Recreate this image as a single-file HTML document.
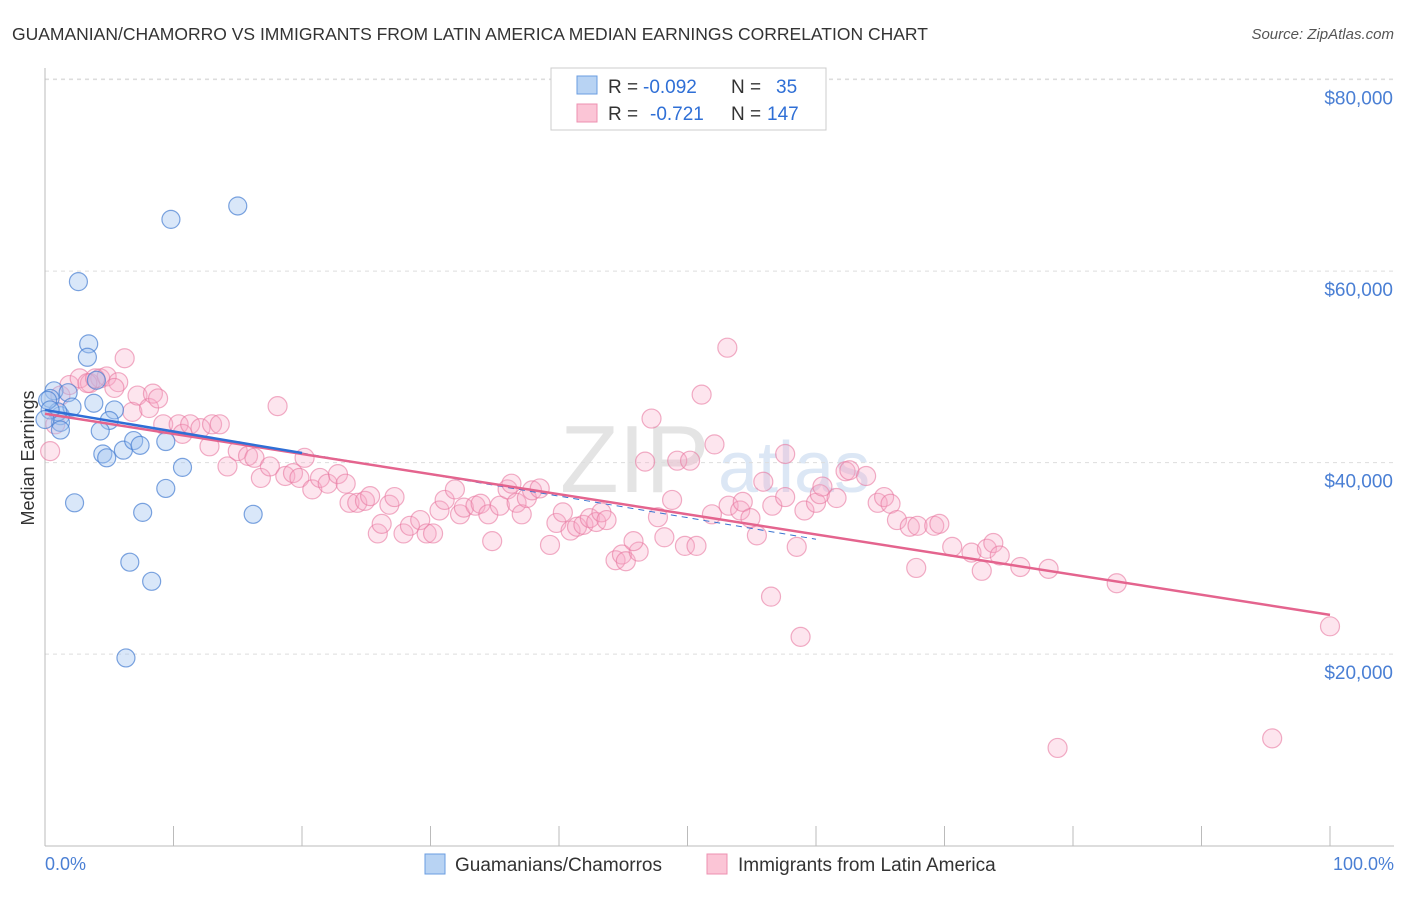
<!DOCTYPE html>
<html><head><meta charset="utf-8"><style>
body{margin:0;background:#fff;font-family:"Liberation Sans",sans-serif;}
svg text{font-family:"Liberation Sans",sans-serif;}
</style></head><body>
<svg id="chart" width="1406" height="892" viewBox="0 0 1406 892">
<text x="12" y="40" font-size="17.5" fill="#333">GUAMANIAN/CHAMORRO VS IMMIGRANTS FROM LATIN AMERICA MEDIAN EARNINGS CORRELATION CHART</text>
<text x="1394" y="39" font-size="15" fill="#555" font-style="italic" text-anchor="end">Source: ZipAtlas.com</text>
<text x="560" y="492" font-size="96" fill="#e4e4e4" font-family="Liberation Serif">ZIP</text>
<text x="718" y="492" font-size="72" fill="#dce7f5">atlas</text>
<g id="grid"></g>
<line x1="45" y1="68" x2="45" y2="846" stroke="#bbb"/>
<line x1="45" y1="846" x2="1394" y2="846" stroke="#bbb"/>
<text transform="translate(34,458) rotate(-90)" font-size="18" fill="#333" text-anchor="middle">Median Earnings</text>
<text x="45" y="870" font-size="18" fill="#4a7fd4">0.0%</text>
<text x="1394" y="870" font-size="18" fill="#4a7fd4" text-anchor="end">100.0%</text>
<g id="pts"></g>
<g id="lines"></g>
<g>
<rect x="551" y="68" width="275" height="62" fill="#fff" stroke="#ccc"/>
<rect x="577" y="76" width="20" height="18" fill="#b8d3f3" stroke="#6a9de0"/>
<rect x="577" y="104" width="20" height="18" fill="#fbc5d6" stroke="#ee90b0"/>
<text x="608" y="93" font-size="19" fill="#333">R =</text>
<text x="643" y="93" font-size="19" fill="#2f6fd6">-0.092</text>
<text x="731" y="93" font-size="19" fill="#333">N =</text>
<text x="776" y="93" font-size="19" fill="#2f6fd6">35</text>
<text x="608" y="120" font-size="19" fill="#333">R =</text>
<text x="650" y="120" font-size="19" fill="#2f6fd6">-0.721</text>
<text x="731" y="120" font-size="19" fill="#333">N =</text>
<text x="767" y="120" font-size="19" fill="#2f6fd6">147</text>
</g>
<g>
<rect x="425" y="854" width="20" height="20" fill="#b8d3f3" stroke="#6a9de0"/>
<text x="455" y="871" font-size="19" fill="#333">Guamanians/Chamorros</text>
<rect x="707" y="854" width="20" height="20" fill="#fbc5d6" stroke="#ee90b0"/>
<text x="738" y="871" font-size="19" fill="#333">Immigrants from Latin America</text>
</g>
</svg>
<script>
const yTicks=[20000,40000,60000,80000];
const yTickLabels=["$20,000","$40,000","$60,000","$80,000"];
const xTicks=[0,10,20,30,40,50,60,70,80,90,100];
const blueX=[9.8,15.0,2.6,3.4,3.3,4.0,0.7,0.4,1.8,1.2,2.1,3.8,5.4,1.0,5.0,4.3,1.2,4.5,4.8,6.1,6.9,7.4,9.4,10.7,9.4,2.3,7.6,16.2,6.6,8.3,6.3,0.2,0.4,0.0,1.2];
const blueY=[65.4,66.8,58.9,52.4,51.0,48.6,47.5,46.7,47.3,44.9,45.8,46.2,45.5,45.3,44.4,43.3,44.2,40.9,40.5,41.3,42.3,41.8,42.2,39.5,37.3,35.8,34.8,34.6,29.6,27.6,19.6,46.5,45.5,44.5,43.4];
const pinkX=[0.4,0.8,1.2,1.9,2.7,3.5,4.3,4.8,5.7,6.2,5.4,6.8,7.2,8.1,8.4,8.8,9.2,10.4,10.7,11.3,12.1,13.0,13.6,12.8,14.2,15.0,15.8,16.3,16.8,17.5,18.1,18.7,19.3,19.8,20.2,20.8,21.4,22.0,22.8,23.4,23.7,24.3,24.9,25.3,25.9,26.2,26.8,27.2,27.9,28.4,29.2,29.7,30.2,30.7,31.1,31.9,32.3,32.6,33.5,33.9,34.5,34.8,35.4,36.0,36.3,36.7,37.1,37.5,37.9,38.5,39.3,39.8,40.3,40.9,41.4,41.9,42.4,42.9,43.3,43.7,44.4,44.9,45.2,46.2,45.8,46.7,47.2,47.7,48.2,48.8,49.2,49.8,50.2,50.7,51.1,52.1,51.9,53.1,53.2,54.1,54.3,54.9,55.4,55.9,56.5,56.6,57.6,57.6,58.5,58.8,59.1,60.0,60.3,60.5,61.6,62.3,62.6,63.9,64.8,65.3,65.8,66.3,67.3,67.8,67.9,69.2,69.6,70.6,72.1,72.9,73.3,73.8,74.3,75.9,78.1,78.8,83.4,95.5,100.0,3.3,3.9];
const pinkY=[41.2,44.0,47.0,48.1,48.8,48.3,48.8,49.0,48.4,50.9,47.8,45.3,47.0,45.7,47.2,46.7,44.0,44.0,43.0,44.0,43.6,44.0,44.0,41.7,39.6,41.2,40.7,40.5,38.4,39.6,45.9,38.6,38.9,38.4,40.5,37.2,38.4,37.8,38.8,37.8,35.8,35.8,36.0,36.5,32.6,33.6,35.6,36.4,32.6,33.4,34.0,32.6,32.6,35.0,36.1,37.2,34.6,35.3,35.5,35.7,34.6,31.8,35.5,37.2,37.8,35.8,34.6,36.3,37.1,37.3,31.4,33.7,34.8,32.9,33.3,33.5,34.2,33.8,34.8,34.0,29.8,30.4,29.7,30.7,31.8,40.1,44.6,34.3,32.2,36.1,40.2,31.3,40.2,31.3,47.1,41.9,34.6,52.0,35.5,35.0,35.9,34.2,32.4,38.0,26.0,35.5,40.9,36.4,31.2,21.8,35.0,35.8,36.7,37.5,36.3,39.1,39.2,38.6,35.8,36.4,35.7,34.0,33.3,29.0,33.4,33.4,33.6,31.2,30.6,28.7,31.0,31.6,30.3,29.1,28.9,10.2,27.4,11.2,22.9,48.3,48.8];
const blueTrend=[45.5,-0.225];
const pinkTrend=[45.1,-0.21];
const NS="http://www.w3.org/2000/svg";
const X=p=>45+p*12.85;
const Y=k=>845.6-k*9.575;
function mk(t,a,parent){const e=document.createElementNS(NS,t);for(const k in a)e.setAttribute(k,a[k]);parent.appendChild(e);return e;}
const grid=document.getElementById('grid');
yTicks.forEach((v,i)=>{
  const l=mk('line',{x1:45,x2:1394,y1:Y(v/1000),y2:Y(v/1000),stroke:'#ddd','stroke-dasharray':'4,4'},grid);
  
  
  const t=mk('text',{x:1393,y:Y(v/1000)+25,'font-size':19,fill:'#4a7fd4','text-anchor':'end'},grid);
  t.textContent=yTickLabels[i];
  
  
});
const tl=mk('line',{x1:45,x2:1394,y1:79,y2:79,stroke:'#ddd','stroke-dasharray':'4,4'},grid);


xTicks.forEach(p=>{
  const l=mk('line',{x1:X(p),x2:X(p),y1:826,y2:846,stroke:'#bbb'},grid);
  
  
});
const pts=document.getElementById('pts');
pinkX.forEach((x,i)=>{
  const c=mk('circle',{cx:X(x),cy:Y(pinkY[i]),r:9.5,fill:'rgba(247,170,198,0.3)',stroke:'rgba(232,120,160,0.6)','stroke-width':1.2},pts);
  
  
});
blueX.forEach((x,i)=>{
  const c=mk('circle',{cx:X(x),cy:Y(blueY[i]),r:9,fill:'rgba(160,195,240,0.4)',stroke:'rgba(70,125,210,0.7)','stroke-width':1.2},pts);
  
  
});
const lines=document.getElementById('lines');
const bd=mk('line',{x1:X(20),y1:Y(blueTrend[0]+blueTrend[1]*20),x2:X(60),y2:Y(blueTrend[0]+blueTrend[1]*60),stroke:'#3b73d0','stroke-width':1,'stroke-dasharray':'6,5'},lines);


const pl=mk('line',{x1:X(0),y1:Y(pinkTrend[0]),x2:X(100),y2:Y(pinkTrend[0]+pinkTrend[1]*100),stroke:'#e4648e','stroke-width':2.5},lines);


const bl=mk('line',{x1:X(0),y1:Y(blueTrend[0]),x2:X(20),y2:Y(blueTrend[0]+blueTrend[1]*20),stroke:'#2f6fd6','stroke-width':2.5},lines);


</script>
</body></html>
